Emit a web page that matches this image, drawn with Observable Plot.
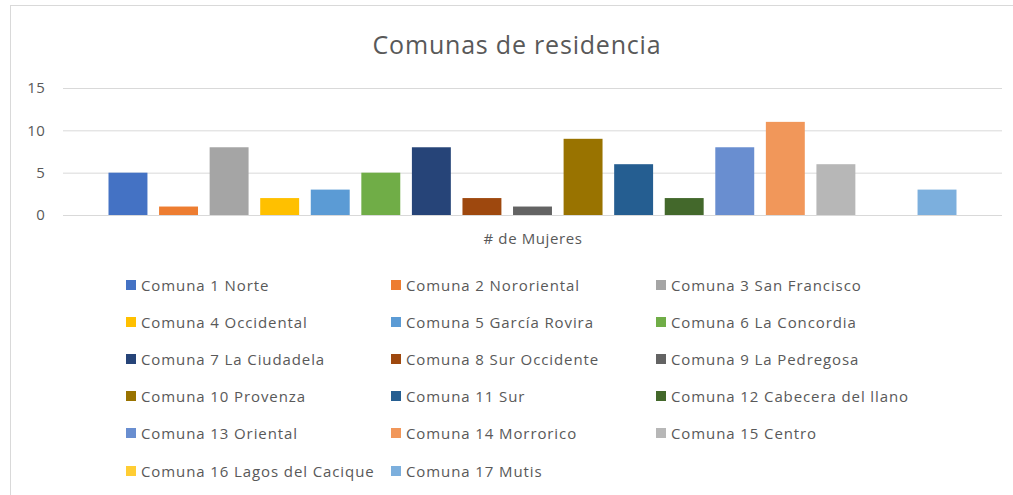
<!DOCTYPE html>
<html><head><meta charset="utf-8">
<script src="https://cdn.jsdelivr.net/npm/d3@7"></script>
<script src="https://cdn.jsdelivr.net/npm/@observablehq/plot@0.6"></script>
<style>
body{margin:0;background:#fff;font-family:"Open Sans",sans-serif;}
#wrap{position:relative;width:1013px;height:495px;overflow:hidden;background:#fff}
#frame{position:absolute;left:10px;top:5px;width:1020px;height:520px;border:1px solid #d9d9d9;box-sizing:border-box}
#title{position:absolute;left:0;width:1034px;top:26px;text-align:center;font-size:25px;letter-spacing:0.8px;color:#595959;line-height:36px}
#chart{position:absolute;left:0;top:70px}
#legend{position:absolute;left:126px;top:266px;display:grid;grid-template-columns:265px 265px 265px;grid-auto-rows:37.2px;font-size:15px;letter-spacing:0.9px;color:#595959}
#legend .item{display:flex;align-items:center;white-space:nowrap}
#legend .sw{width:10px;height:10px;margin-right:5px;flex:none}
#chart svg text{letter-spacing:0.6px}
</style></head>
<body><div id="wrap"><div id="frame"></div><div id="title"></div><div id="chart"></div><div id="legend"></div></div>
<script>
const titulo = "Comunas de residencia";
const categoria = "# de Mujeres";
const comunas = ["Comuna 1 Norte","Comuna 2 Nororiental","Comuna 3 San Francisco","Comuna 4 Occidental","Comuna 5 García Rovira","Comuna 6 La Concordia","Comuna 7 La Ciudadela","Comuna 8 Sur Occidente","Comuna 9 La Pedregosa","Comuna 10 Provenza","Comuna 11 Sur","Comuna 12 Cabecera del llano","Comuna 13 Oriental","Comuna 14 Morrorico","Comuna 15 Centro","Comuna 16 Lagos del Cacique","Comuna 17 Mutis"];
const valores = [5,1,8,2,3,5,8,2,1,9,6,2,8,11,6,0,3];
const colores = ["#4472C4","#ED7D31","#A5A5A5","#FFC000","#5B9BD5","#70AD47","#264478","#9E480E","#636363","#997300","#255E91","#43682B","#698ED0","#F1975A","#B7B7B7","#FFCD33","#7CAFDD"];
const yTicks = [0,5,10,15];

const data = comunas.map((c,i)=>({categoria, comuna:c, valor:valores[i]}));

document.getElementById("title").textContent = titulo;

const chart = Plot.plot({
  width: 1013, height: 190,
  marginLeft: 63, marginRight: 11, marginTop: 18, marginBottom: 45,
  style: {fontFamily: '"Open Sans", sans-serif', fontSize: "15px", color: "#595959", background: "transparent"},
  fx: {domain: [categoria], padding: 0, round: false, label: null},
  x: {domain: comunas, paddingInner: 0.23, paddingOuter: 0.9, round: false, axis: null},
  y: {domain: [0, 15], label: null},
  color: {domain: comunas, range: colores},
  marks: [
    Plot.gridY(yTicks, {stroke: "#d9d9d9", strokeOpacity: 1}),
    Plot.axisY(yTicks, {tickSize: 0, tickPadding: 18, label: null, fill: "#595959"}),
    Plot.axisFx({anchor: "bottom", tickSize: 0, tickPadding: 18, label: null, fill: "#595959"}),
    Plot.barY(data, {fx: "categoria", x: "comuna", y: "valor", fill: "comuna"})
  ]
});
document.getElementById("chart").appendChild(chart);

const legend = d3.select("#legend");
comunas.forEach((c,i)=>{
  const it = legend.append("div").attr("class","item");
  it.append("div").attr("class","sw").style("background", colores[i]);
  it.append("span").text(c);
});
</script></body></html>
